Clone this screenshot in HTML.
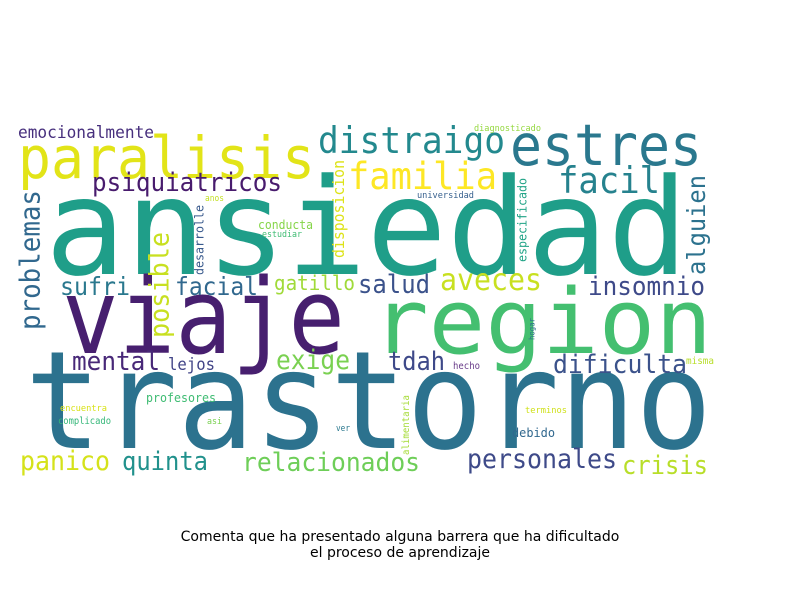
<!DOCTYPE html>
<html><head><meta charset="utf-8"><style>
html,body{margin:0;padding:0;background:#fff;}
svg text{font-family:"DejaVu Sans","Liberation Sans",sans-serif;}
#cloud text{font-family:"DejaVu Sans Mono","Liberation Mono",monospace;}
</style></head><body>
<svg width="800" height="600" viewBox="0 0 800 600" xmlns="http://www.w3.org/2000/svg">
<rect width="800" height="600" fill="#fff"/>
<g id="cloud"></g>
<text x="400" y="541" text-anchor="middle" font-size="14" fill="#000">Comenta que ha presentado alguna barrera que ha dificultado</text>
<text x="400" y="557" text-anchor="middle" font-size="14" fill="#000">el proceso de aprendizaje</text>
</svg>
<script>
const words = ["ansiedad","trastorno","viaje","region","paralisis","estres","distraigo","familia","facil","psiquiatricos","emocionalmente","problemas","posible","alguien","sufri","facial","gatillo","salud","aveces","insomnio","mental","lejos","exige","tdah","dificulta","hecho","misma","profesores","encuentra","complicado","asi","ver","terminos","debido","alimentaria","panico","quinta","relacionados","personales","crisis","diagnosticado","universidad","anos","conducta","estudiar","desarrolle","disposicion","especificado","hogar"];
const colors = ["#1f9e89","#2c728e","#471f6f","#44bf70","#e2e418","#2a788e","#23898e","#fde725","#26828e","#481b6d","#472f7d","#31688e","#c8e020","#2c728e","#2a788e","#31688e","#a0da39","#3b528b","#c8e020","#3e4a89","#482878","#414487","#7ad151","#3e4989","#3b528b","#6a3d8a","#b8de29","#3fbc73","#d8e219","#35b779","#7ad151","#2a788e","#d0e11c","#31688e","#a5db36","#d5e21a","#21918c","#6ece58","#3e4a89","#b8de29","#95d840","#355f8d","#c2df23","#86d549","#3fbc73","#38598c","#dde318","#20a386","#2d708e"];
// layout: [x, baseline, length, rotated, fontSize(0=auto)]
const layout = [
[45,274,643,0,134],[25,448,687,0,136],[62,353,283,0,104],[372,353,340,0,90],
[18,178,297,0,0],[510,165,192,0,0],[318,153,187,0,0],[348,189,149,0,0],
[558,193,102,0,0],[92,191,190,0,0],[18,138,136,0,0],[45,330,140,1,0],
[174,338,106,1,0],[710,275,100,1,0],[60,295,70,0,0],[175,295,83,0,0],
[274,290,81,0,0],[358,293,72,0,0],[440,290,102,0,0],[588,295,117,0,0],
[72,370,88,0,0],[168,370,47,0,0],[276,369,74,0,0],[388,370,57,0,0],
[553,373,134,0,0],[453,369,27,0,0],[686,364,28,0,0],[146,402,70,0,0],
[60,411,47,0,0],[58,424,53,0,0],[207,424,15,0,0],[336,431,14,0,0],
[525,413,42,0,0],[512,437,43,0,0],[411,455,60,1,0],[20,470,90,0,0],
[122,470,86,0,0],[242,471,178,0,0],[467,468,150,0,0],[622,474,86,0,0],
[474,131,67,0,0],[417,198,57,0,0],[205,201,19,0,0],[258,229,55,0,0],
[262,237,40,0,0],[206,275,70,1,0],[347,258,98,1,0],[529,262,84,1,0],[536,340,22,1,0]
];
const g = document.getElementById('cloud');
const NS = 'http://www.w3.org/2000/svg';
words.forEach((w,i)=>{
  const [x,y,len,rot,f] = layout[i];
  const fs = f || 1.04 * len / ((w.length - 0.15) * 0.602);
  const t = document.createElementNS(NS,'text');
  
  
  t.setAttribute('font-size', fs.toFixed(1));
  t.setAttribute('fill', colors[i]);
  t.setAttribute('textLength', len);
  t.setAttribute('lengthAdjust', 'spacingAndGlyphs');
  if (rot) {
    t.setAttribute('x', 0); t.setAttribute('y', 0);
    t.setAttribute('transform', 'translate(' + (x - fs*0.2) + ',' + y + ') rotate(-90)');
  } else {
    t.setAttribute('x', x); t.setAttribute('y', y);
  }
  t.textContent = w;
  g.appendChild(t);
});
</script>
</body></html>
